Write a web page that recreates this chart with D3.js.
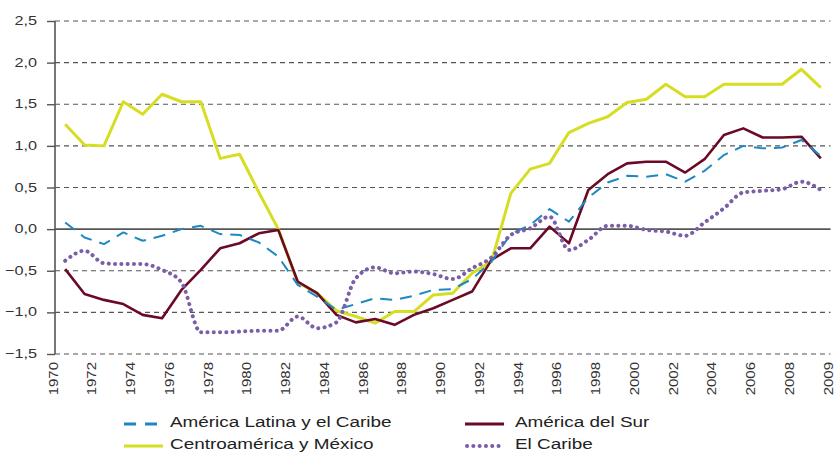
<!DOCTYPE html>
<html>
<head>
<meta charset="utf-8">
<script src="https://cdn.jsdelivr.net/npm/d3@7"></script>
<style>
  body { margin: 0; background: #fff; }
  svg { display: block; font-family: "Liberation Sans", Arial, sans-serif; }
</style>
</head>
<body>
<svg id="chart" width="836" height="453"></svg>
<script>
const years = d3.range(1970, 2010);

const latinAmerica = [0.08, -0.10, -0.18, -0.04, -0.14, -0.08, 0.00, 0.04, -0.06, -0.07,
  -0.16, -0.33, -0.67, -0.81, -0.97, -0.90, -0.83, -0.85, -0.80, -0.73,
  -0.72, -0.60, -0.39, -0.06, 0.05, 0.24, 0.09, 0.38, 0.56, 0.64,
  0.63, 0.66, 0.57, 0.70, 0.89, 1.00, 0.97, 0.98, 1.07, 0.88];

const southAmerica = [-0.48, -0.78, -0.85, -0.90, -1.03, -1.07, -0.73, -0.49, -0.23, -0.17,
  -0.05, -0.01, -0.63, -0.77, -1.03, -1.12, -1.08, -1.15, -1.03, -0.95,
  -0.85, -0.75, -0.37, -0.23, -0.23, 0.03, -0.17, 0.47, 0.66, 0.79,
  0.81, 0.81, 0.68, 0.84, 1.13, 1.21, 1.10, 1.10, 1.11, 0.85];

const centralAmerica = [1.26, 1.01, 1.00, 1.53, 1.38, 1.62, 1.53, 1.53, 0.85, 0.90,
  0.44, 0.00, -0.64, -0.77, -0.98, -1.05, -1.13, -0.99, -0.99, -0.79,
  -0.77, -0.53, -0.39, 0.43, 0.72, 0.79, 1.16, 1.27, 1.35, 1.52,
  1.56, 1.74, 1.59, 1.59, 1.74, 1.74, 1.74, 1.74, 1.92, 1.70];

const caribbean = [-0.38, -0.26, -0.41, -0.42, -0.42, -0.49, -0.64, -1.24, -1.24, -1.23,
  -1.22, -1.22, -1.05, -1.19, -1.12, -0.59, -0.46, -0.53, -0.51, -0.54,
  -0.60, -0.47, -0.34, -0.07, 0.01, 0.15, -0.25, -0.13, 0.04, 0.04,
  -0.01, -0.03, -0.08, 0.08, 0.25, 0.44, 0.46, 0.48, 0.57, 0.47];

const yTicks = [-1.5, -1.0, -0.5, 0.0, 0.5, 1.0, 1.5, 2.0, 2.5];
const xTickLabels = ["1970", "1972", "1974", "1976", "1978", "1980", "1982", "1984", "1986", "1988",
  "1990", "1992", "1994", "1996", "1998", "2000", "2002", "2004", "2006", "2008", "2009"];

const seriesNames = ["América Latina y el Caribe", "América del Sur", "Centroamérica y México", "El Caribe"];

const svg = d3.select("#chart");
const plotLeft = 55, plotRight = 830.5, plotTop = 21, plotBottom = 354;
const stretch = 1.25;

// category index -> x (points sit in the middle of each year band)
const x = d3.scaleLinear().domain([0, years.length]).range([plotLeft + 0.5, plotRight]);
const y = d3.scaleLinear().domain([-1.5, 2.5]).range([plotBottom, plotTop]);
const fmt = (v) => d3.format(".1f")(v).replace(".", ",");

// grid
svg.append("g")
  .selectAll("line")
  .data(yTicks)
  .join("line")
  .attr("x1", plotLeft)
  .attr("x2", plotRight)
  .attr("y1", (d) => y(d))
  .attr("y2", (d) => y(d))
  .attr("stroke", "#555")
  .attr("stroke-width", (d) => (d === 0 ? 1.6 : 1.2))
  .attr("stroke-dasharray", (d) => (d === 0 ? null : "5,4"));

// y axis
const yAxis = svg.append("g")
  .attr("transform", `translate(${plotLeft},0)`)
  .call(d3.axisLeft(y).tickValues(yTicks).tickSize(8).tickFormat(""));
yAxis.select(".domain").attr("stroke", "#555").attr("stroke-width", 1.6).attr("d", `M0,${plotTop}V${plotBottom}`);
yAxis.selectAll(".tick line").attr("stroke", "#555").attr("stroke-width", 1.4);

svg.append("g")
  .selectAll("text")
  .data(yTicks)
  .join("text")
  .attr("transform", (d) => `translate(37,${y(d) + 4}) scale(${stretch},1)`)
  .attr("text-anchor", "end")
  .attr("font-size", 13)
  .attr("fill", "#333")
  .text(fmt);

// x labels, rotated, on the band boundaries
svg.append("g")
  .selectAll("text")
  .data(xTickLabels)
  .join("text")
  .attr("transform", (d, i) => `translate(${x(i * 2) + 2},362) rotate(-90) scale(${stretch},1)`)
  .attr("text-anchor", "end")
  .attr("font-size", 12)
  .attr("fill", "#333")
  .text((d) => d);

const line = d3.line()
  .x((d, i) => x(i + 0.5))
  .y((d) => y(d));

const smooth = d3.line()
  .x((d, i) => x(i + 0.5))
  .y((d) => y(d))
  .curve(d3.curveMonotoneX);

const styles = [
  { data: latinAmerica, color: "#1c88c4", width: 2, dash: "12,8", cap: "butt", gen: line },
  { data: southAmerica, color: "#6b0a26", width: 2.6, dash: null, cap: "butt", gen: line },
  { data: centralAmerica, color: "#d6de24", width: 3, dash: null, cap: "butt", gen: line },
  { data: caribbean, color: "#7a5fa8", width: 4, dash: "0.1,6.2", cap: "round", gen: smooth },
];

const drawOrder = [2, 1, 0, 3];
drawOrder.forEach((k) => {
  const s = styles[k];
  svg.append("path")
    .datum(s.data)
    .attr("fill", "none")
    .attr("stroke", s.color)
    .attr("stroke-width", s.width)
    .attr("stroke-dasharray", s.dash)
    .attr("stroke-linecap", s.cap)
    .attr("stroke-linejoin", "round")
    .attr("d", s.gen);
});

// legend
const legendPos = [
  { sx: 124, tx: 170, ly: 424, len: 34 },
  { sx: 465, tx: 515, ly: 424, len: 39 },
  { sx: 124, tx: 170, ly: 446, len: 39 },
  { sx: 467, tx: 515, ly: 446, len: 33 },
];
const legend = svg.append("g");
seriesNames.forEach((name, k) => {
  const s = styles[k];
  const p = legendPos[k];
  legend.append("line")
    .attr("x1", p.sx).attr("x2", p.sx + p.len)
    .attr("y1", p.ly).attr("y2", p.ly)
    .attr("stroke", s.color)
    .attr("stroke-width", k === 3 ? 4 : 3)
    .attr("stroke-dasharray", k === 0 ? "12,9" : s.dash)
    .attr("stroke-linecap", s.cap);
  legend.append("text")
    .attr("transform", `translate(${p.tx},${p.ly + 2.5}) scale(1.22,1)`)
    .attr("font-size", 15.5)
    .attr("fill", "#222")
    .text(name);
});
</script>
</body>
</html>
